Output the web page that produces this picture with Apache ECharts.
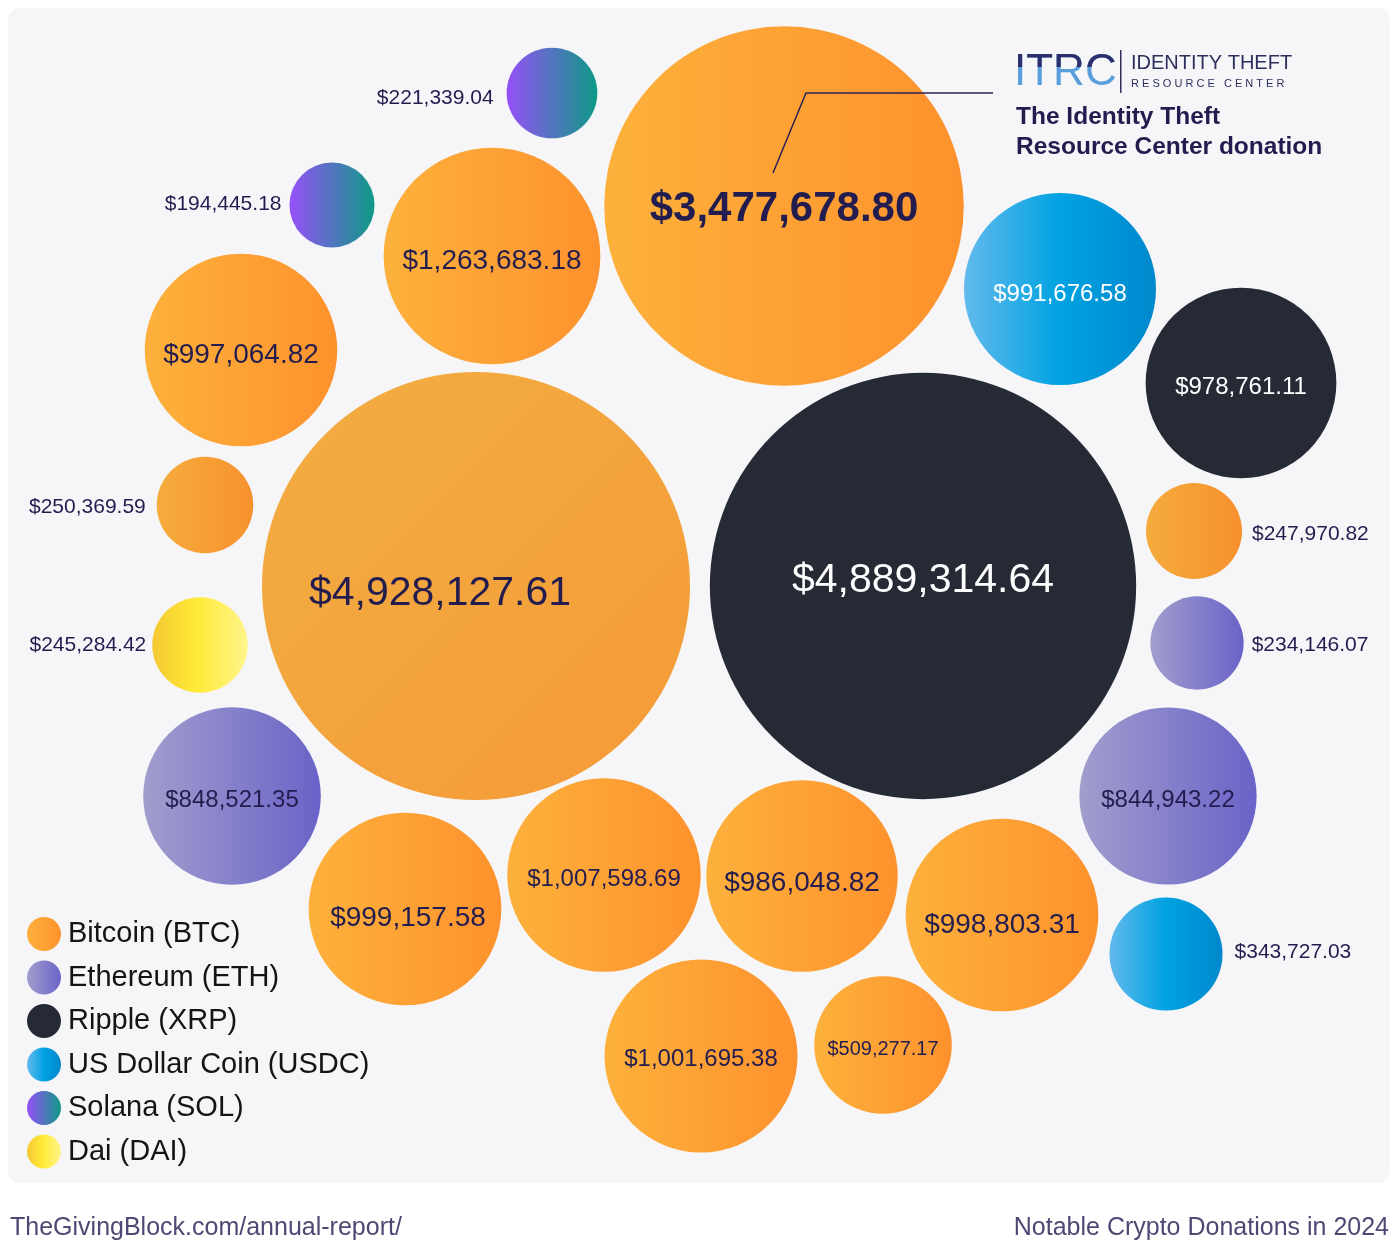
<!DOCTYPE html>
<html><head><meta charset="utf-8">
<style>html,body{margin:0;padding:0;background:#ffffff}#c{width:1400px;height:1260px}</style>
<script src="https://cdn.jsdelivr.net/npm/echarts@6/dist/echarts.min.js"></script>
</head><body><div id="c"></div>
<script>
// ---------- data ----------
const currencies = ['Bitcoin (BTC)', 'Ethereum (ETH)', 'Ripple (XRP)', 'US Dollar Coin (USDC)', 'Solana (SOL)', 'Dai (DAI)'];
const donationValues = [
  4928127.61, 4889314.64, 3477678.80, 1263683.18, 997064.82, 221339.04, 194445.18,
  991676.58, 978761.11, 250369.59, 247970.82, 245284.42, 234146.07, 848521.35,
  844943.22, 999157.58, 1007598.69, 986048.82, 998803.31, 343727.03, 1001695.38, 509277.17
];
const donationCurrency = [0, 2, 0, 0, 0, 4, 4, 3, 2, 0, 0, 5, 1, 1, 1, 0, 0, 0, 0, 3, 0, 0];
// packed-bubble layout centres (layout units)
const layoutX = [476, 923, 784, 492, 241, 552, 332, 1060, 1241, 205, 1194, 200, 1197, 232, 1168, 405, 604, 802, 1002, 1166, 701, 883];
const layoutY = [586, 586, 206, 256, 350, 93, 205, 289, 383, 505, 531, 645, 643, 796, 796, 909, 875, 876, 915, 954, 1056, 1045];
const footerLeft = 'TheGivingBlock.com/annual-report/';
const footerRight = 'Notable Crypto Donations in 2024';
const calloutTitle = ['The Identity Theft', 'Resource Center donation'];

// ---------- styles ----------
const K = 0.1928; // diameter per sqrt(dollar)
const NAVY = '#231d4f';
const FONT = "'Liberation Sans', Arial, Helvetica, sans-serif";
const lg = (dir, stops) => new echarts.graphic.LinearGradient(dir[0], dir[1], dir[2], dir[3],
  stops.map((c) => ({offset: c[0], color: c[1]})));
const currencyFill = [
  lg([0,0,1,0], [[0,'#fdb13c'],[1,'#fd922d']]),
  lg([0,0,1,0], [[0,'#a19ecd'],[1,'#6a63c8']]),
  '#252a35',
  lg([0,0,1,0], [[0,'#63baec'],[0.5,'#00a2e2'],[1,'#0088cc']]),
  lg([0,0,1,0], [[0,'#9650f7'],[1,'#0e9a86']]),
  lg([0,0,1,0], [[0,'#f4c834'],[0.45,'#ffea36'],[1,'#fff58c']])
];
const specialFill = {
  0: lg([0,0,1,1], [[0,'#f2ae43'],[1,'#f59a37']]),
  9: lg([0,0,1,0], [[0,'#f6ac3d'],[1,'#f7922e']]),
  10: lg([0,0,1,0], [[0,'#f5ab3d'],[1,'#f6912e']])
};
// label placement per bubble: [position, fontSize, colour, offsetX, offsetY, bold, distance]
const labelStyle = {
  0: ['inside', 41, NAVY, -36, 8],
  1: ['inside', 41, '#ffffff', 0, -5],
  2: ['inside', 42, NAVY, 0, 3, true],
  3: ['inside', 28, NAVY, 0, 5],
  4: ['inside', 28, NAVY, 0, 5],
  5: ['left', 21, NAVY, 0, 5, false, 13],
  6: ['left', 21, NAVY, 0, -1, false, 8],
  7: ['inside', 24, '#ffffff', 0, 5],
  8: ['inside', 24, '#ffffff', 0, 4],
  9: ['left', 21, NAVY, 0, 2, false, 11],
  10: ['right', 21, NAVY, 0, 3, false, 10],
  11: ['left', 21, NAVY, 0, 0, false, 6],
  12: ['right', 21, NAVY, 0, 2, false, 8],
  13: ['inside', 24, NAVY, 0, 4],
  14: ['inside', 24, NAVY, 0, 4],
  15: ['inside', 28, NAVY, 3, 9],
  16: ['inside', 24, NAVY, 0, 4],
  17: ['inside', 28, NAVY, 0, 7],
  18: ['inside', 28, NAVY, 0, 10],
  19: ['right', 21, NAVY, 0, -2, false, 12],
  20: ['inside', 24, NAVY, 0, 3],
  21: ['inside', 20, NAVY, 0, 4]
};

function fmt(v) {
  const parts = v.toFixed(2).split('.');
  return '$' + parts[0].replace(/\B(?=(\d{3})+(?!\d))/g, ',') + '.' + parts[1];
}

const series = currencies.map((name, c) => {
  const data = [];
  donationValues.forEach((v, i) => {
    if (donationCurrency[i] !== c) return;
    const ls = labelStyle[i];
    const item = {
      value: [layoutX[i], layoutY[i], v],
      label: {
        show: true,
        position: ls[0],
        distance: ls[6] || 5,
        fontSize: ls[1],
        color: ls[2],
        offset: [ls[3], ls[4]],
        fontWeight: ls[5] ? 'bold' : 'normal',
        fontFamily: FONT,
        formatter: fmt(v)
      }
    };
    if (specialFill[i]) item.itemStyle = {color: specialFill[i]};
    data.push(item);
  });
  return {
    type: 'scatter',
    name: name,
    symbol: 'circle',
    symbolSize: (val) => K * Math.sqrt(val[2]),
    itemStyle: {color: currencyFill[c], opacity: 1},
    emphasis: {disabled: true},
    data: data,
    z: 3
  };
});

const chart = echarts.init(document.getElementById('c'), null, {renderer: 'canvas'});
chart.setOption({
  animation: false,
  backgroundColor: '#ffffff',
  grid: {left: 0, right: 0, top: 0, bottom: 0},
  xAxis: {type: 'value', min: 0, max: 1400, show: false},
  yAxis: {type: 'value', min: 0, max: 1260, inverse: true, show: false},
  legend: {
    orient: 'vertical', left: 27, top: 917, padding: 0,
    itemWidth: 34, itemHeight: 34, itemGap: 9.5,
    icon: 'circle', selectedMode: false,
    textStyle: {fontSize: 29, color: '#141414', fontFamily: FONT, padding: [0, 0, 0, 2]},
    data: currencies
  },
  graphic: [
    {type: 'rect', z: -10, silent: true, shape: {x: 8, y: 8, width: 1382, height: 1175, r: 12}, style: {fill: '#f6f6f9'}},
    {type: 'polyline', z: 10, silent: true, shape: {points: [[773, 173], [806, 93], [993, 93]]}, style: {stroke: '#2a2352', lineWidth: 1.5, fill: null}},
    {type: 'rect', z: 10, silent: true, shape: {x: 1120, y: 50, width: 1.5, height: 43}, style: {fill: '#2d2f5c'}},
    {type: 'text', z: 10, silent: true, left: 1131, top: 53, style: {text: 'IDENTITY THEFT', font: "20px 'Liberation Sans', Arial, sans-serif", fill: '#2d2f5c'}},
    {type: 'text', z: 10, silent: true, left: 1131, top: 78, style: {text: 'R E S O U R C E   C E N T E R', font: "11px 'Liberation Sans', Arial, sans-serif", fill: '#2d2f5c'}},
    {type: 'text', z: 10, silent: true, left: 1016, top: 102, style: {text: calloutTitle.join('\n'), lineHeight: 30, font: "bold 24.5px 'Liberation Sans', Arial, sans-serif", fill: NAVY}},
    {type: 'text', z: 10, silent: true, left: 10, top: 1216, style: {text: footerLeft, font: "25px 'Liberation Sans', Arial, sans-serif", fill: '#4f4873'}},
    {type: 'text', z: 10, silent: true, right: 11, top: 1216, style: {text: footerRight, font: "25px 'Liberation Sans', Arial, sans-serif", fill: '#4f4873'}}
  ],
  series: series
});

// two-tone ITRC wordmark: blue lower part, navy upper part (via clipping)
(function () {
  const zr = chart.getZr();
  const st = {text: 'ITRC', font: "44px 'Liberation Sans', Arial, sans-serif", textVerticalAlign: 'top'};
  const blue = new echarts.graphic.Text({x: 1014, y: 51, z: 20, silent: true,
    style: Object.assign({}, st, {fill: '#5a9fdb'})});
  const navy = new echarts.graphic.Text({x: 1014, y: 51, z: 21, silent: true,
    style: Object.assign({}, st, {fill: '#2d2f6c'})});
  navy.setClipPath(new echarts.graphic.Rect({shape: {x: 0, y: 0, width: 120, height: 16}}));
  zr.add(blue);
  zr.add(navy);
})();
</script></body></html>
